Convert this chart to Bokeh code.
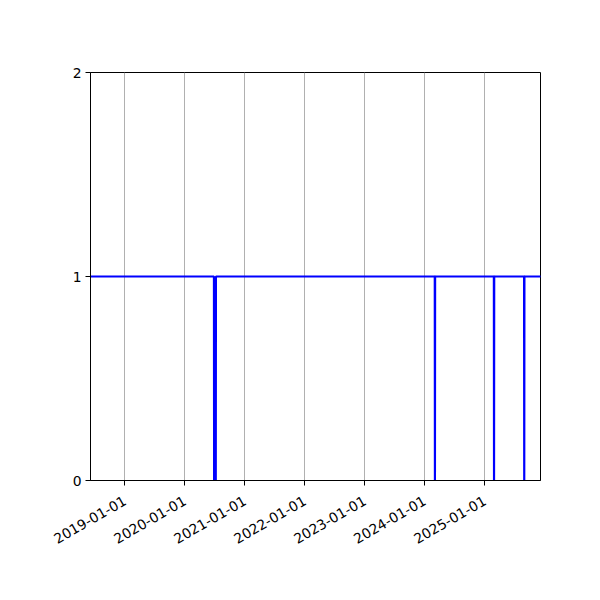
import math
import pandas as pd
from bokeh.plotting import figure
from bokeh.models import FixedTicker, DatetimeTickFormatter, Range1d
from bokeh.embed import file_html
from bokeh.resources import INLINE

# data
dates = ["2018-06-01", "2020-06-26", "2020-06-27", "2020-07-07", "2020-07-08",
         "2024-03-02", "2024-03-03", "2024-03-04",
         "2025-02-25", "2025-02-26", "2025-02-27",
         "2025-08-28", "2025-08-29", "2025-08-30", "2025-12-10"]
values = [1, 1, 0, 0, 1, 1, 0, 1, 1, 0, 1, 1, 0, 1, 1]

tick_labels = ["2019-01-01", "2020-01-01", "2021-01-01", "2022-01-01",
               "2023-01-01", "2024-01-01", "2025-01-01"]
y_ticks = [0, 1, 2]
x_start, x_end = "2018-06-05", "2025-12-06"

x = pd.to_datetime(dates)
x_ticks_ms = [pd.Timestamp(t).value / 1e6 for t in tick_labels]

p = figure(width=600, height=600, output_backend="svg", toolbar_location=None,
           x_axis_type="datetime",
           x_range=Range1d(pd.Timestamp(x_start), pd.Timestamp(x_end)),
           y_range=Range1d(0, 2),
           min_border_left=90, min_border_right=60,
           min_border_top=72, min_border_bottom=120)

p.line(x, values, line_color="blue", line_width=2.2)

fmt = "%Y-%m-%d"
p.xaxis.ticker = FixedTicker(ticks=x_ticks_ms)
p.xaxis.formatter = DatetimeTickFormatter(years=fmt, months=fmt, days=fmt,
                                          hours=fmt, minutes=fmt, seconds=fmt,
                                          milliseconds=fmt, microseconds=fmt)
p.xaxis.major_label_orientation = math.pi / 6
p.yaxis.ticker = FixedTicker(ticks=y_ticks)

for ax in (p.xaxis[0], p.yaxis[0]):
    ax.major_tick_out = 5
    ax.major_tick_in = 0
    ax.minor_tick_out = 0
    ax.minor_tick_in = 0
    ax.major_tick_line_color = "black"
    ax.axis_line_color = "black"
    ax.major_label_text_color = "black"
    ax.major_label_text_font = "DejaVu Sans"
    ax.major_label_text_font_size = "13.9px"
    ax.major_label_standoff = 4
p.xaxis[0].major_label_standoff = 14

p.xgrid.grid_line_color = "#b0b0b0"
p.xgrid.grid_line_width = 1
p.ygrid.grid_line_color = None
p.outline_line_color = "black"
p.outline_line_width = 1
p.outline_line_alpha = 1
p.background_fill_color = "white"
p.border_fill_color = "white"

open("out.html", "w").write(file_html(p, INLINE))
